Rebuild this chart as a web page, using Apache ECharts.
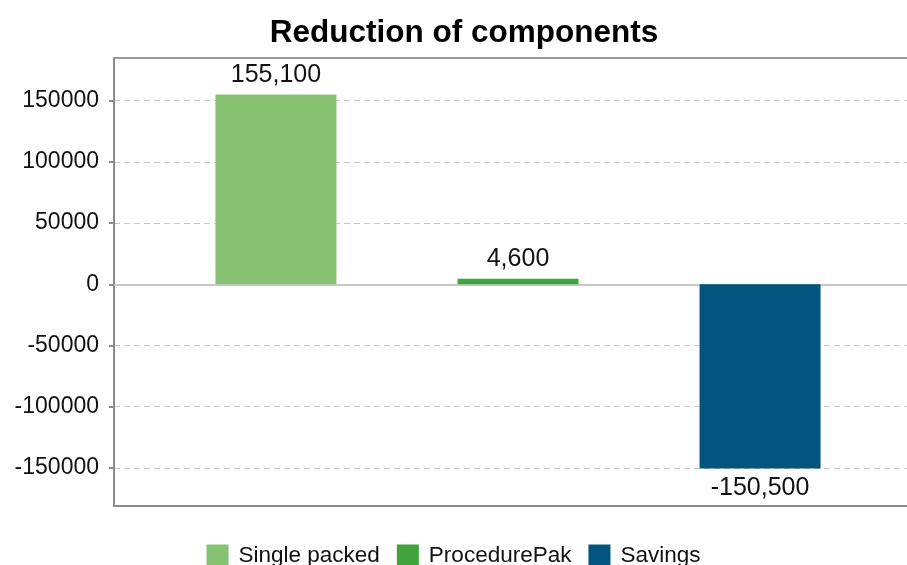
<!DOCTYPE html>
<html>
<head>
<meta charset="utf-8">
<script src="https://cdn.jsdelivr.net/npm/echarts@6/dist/echarts.min.js"></script>
<style>
html,body{margin:0;padding:0;background:#fff;}
#chart{width:907px;height:565px;}
</style>
</head>
<body>
<div id="chart"></div>
<script>
var titleText = 'Reduction of components';
var seriesNames = ['Single packed', 'ProcedurePak', 'Savings'];
var seriesValues = [155100, 4600, -150500];
var seriesColors = ['#87c172', '#41a33b', '#03557f'];
var yTicks = [-150000, -100000, -50000, 0, 50000, 100000, 150000];
var yMin = -181200, yMax = 184900;
var xMin = -0.669, xMax = 2.669;

var FONT = '"Liberation Sans", Arial, sans-serif';

var chart = echarts.init(document.getElementById('chart'), null, {renderer: 'canvas'});

var series = seriesNames.map(function (name, i) {
  return {
    name: name,
    type: 'bar',
    barWidth: 121,
    barGap: '-100%',
    xAxisIndex: 0,
    yAxisIndex: 0,
    itemStyle: {color: seriesColors[i]},
    data: [[i, seriesValues[i]]],
    label: {
      show: true,
      position: seriesValues[i] < 0 ? 'bottom' : 'top',
      distance: 7,
      color: '#111',
      fontSize: 25,
      fontFamily: FONT,
      formatter: function (p) { return p.value[1].toLocaleString('en-US'); }
    },
    markLine: i === 0 ? {
      silent: true,
      symbol: 'none',
      z: 1,
      label: {show: false},
      lineStyle: {color: '#c8c8c8', width: 2, type: 'solid'},
      data: [{yAxis: 0}],
      animation: false
    } : undefined,
    animation: false
  };
});

chart.setOption({
  animation: false,
  title: {
    text: titleText,
    left: 459,
    textAlign: 'center',
    top: 12,
    textStyle: {fontSize: 31.5, fontWeight: 'bold', color: '#000', fontFamily: FONT}
  },
  legend: {
    data: seriesNames,
    left: 'center',
    top: 539,
    itemWidth: 22,
    itemHeight: 22,
    itemGap: 17,
    icon: 'rect',
    textStyle: {fontSize: 22.5, color: '#111', fontFamily: FONT, padding: [0, 0, 0, 5]}
  },
  grid: {
    left: 114,
    top: 58,
    width: 808,
    height: 448,
    containLabel: false,
    outerBoundsMode: 'none'
  },
  xAxis: [{
    type: 'value',
    min: xMin,
    max: xMax,
    position: 'bottom',
    axisLine: {show: true, onZero: false, lineStyle: {color: '#8a8a8a', width: 2}},
    axisTick: {show: false},
    axisLabel: {show: false},
    splitLine: {show: false}
  }, {
    type: 'value',
    min: xMin,
    max: xMax,
    position: 'top',
    axisLine: {show: true, onZero: false, lineStyle: {color: '#9a9a9a', width: 2}},
    axisTick: {show: false},
    axisLabel: {show: false},
    splitLine: {show: false}
  }],
  yAxis: {
    type: 'value',
    min: yMin,
    max: yMax,
    axisLine: {show: true, onZero: false, lineStyle: {color: '#8a8a8a', width: 2}},
    axisTick: {show: true, length: 5, customValues: yTicks, lineStyle: {color: '#8a8a8a', width: 2}},
    axisLabel: {
      show: true, customValues: yTicks, margin: 15, fontSize: 23, color: '#111', fontFamily: FONT,
      formatter: function (v) { return String(v); }
    },
    splitLine: {show: true, lineStyle: {color: '#c8c8c8', width: 1, type: [6, 4]}}
  },
  series: series
});
</script>
</body>
</html>
